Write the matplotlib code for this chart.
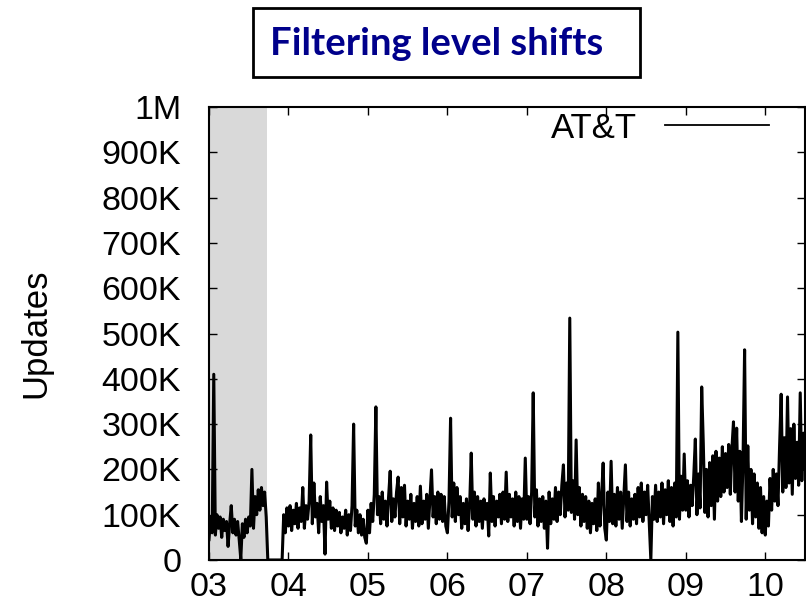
import matplotlib
matplotlib.use('Agg')
import matplotlib.pyplot as plt
from matplotlib.patches import Rectangle
import numpy as np

# daily update counts for AT&T, sampled every 0.02 yr, in thousands
start_year = 2003.0
step = 0.02
updates_2003 = [45, 95, 60, 410, 55, 100, 70, 95, 50, 90,
                65, 85, 30, 80, 120, 60, 90, 55, 85, 45,
                2, 80, 50, 90, 60, 95, 75, 200, 70, 140,
                100, 155, 110, 160, 120, 150, 95, 0, 0, 0,
                0, 0, 0, 0, 0, 0, 0, 100, 60, 115]
updates_2004 = [75, 120, 65, 110, 80, 125, 70, 115, 85, 160,
                70, 120, 90, 130, 276, 80, 170, 95, 125, 60,
                140, 85, 120, 13, 172, 90, 130, 70, 115, 65,
                110, 75, 105, 60, 95, 70, 110, 55, 100, 65,
                120, 300, 75, 110, 60, 100, 55, 90, 50, 37]
updates_2005 = [110, 60, 125, 85, 145, 338, 100, 140, 80, 150,
                90, 130, 75, 140, 196, 85, 135, 95, 150, 183,
                80, 160, 95, 165, 75, 130, 90, 145, 70, 125,
                85, 140, 75, 163, 80, 130, 90, 145, 70, 135,
                199, 95, 140, 80, 150, 90, 145, 85, 140, 75]
updates_2006 = [60, 130, 313, 95, 170, 85, 160, 100, 140, 70,
                125, 80, 135, 65, 120, 236, 90, 150, 75, 140,
                85, 130, 70, 135, 90, 125, 53, 192, 85, 140,
                75, 130, 95, 145, 80, 150, 90, 194, 85, 145,
                95, 135, 75, 150, 85, 140, 70, 135, 90, 225]
updates_2007 = [90, 140, 80, 150, 369, 95, 155, 75, 135, 85,
                140, 70, 130, 26, 150, 80, 135, 90, 160, 85,
                150, 100, 165, 210, 95, 170, 110, 534, 105, 175,
                90, 265, 100, 160, 75, 145, 85, 140, 70, 130,
                60, 125, 80, 135, 65, 170, 75, 140, 214, 70]
updates_2008 = [44, 150, 85, 218, 80, 145, 75, 160, 90, 150,
                70, 140, 210, 85, 150, 75, 135, 90, 145, 80,
                160, 95, 170, 85, 150, 100, 165, 80, 0, 140,
                90, 165, 85, 150, 95, 170, 80, 155, 100, 175,
                85, 160, 75, 170, 95, 503, 90, 185, 110, 234]
updates_2009 = [110, 175, 95, 165, 120, 185, 267, 100, 190, 115,
                382, 258, 105, 200, 95, 215, 120, 230, 90, 240,
                130, 225, 140, 250, 150, 235, 160, 255, 145, 245,
                305, 150, 291, 130, 240, 85, 220, 464, 90, 252,
                110, 200, 80, 190, 95, 170, 70, 160, 60, 140]
updates_2010 = [55, 130, 75, 180, 110, 200, 130, 190, 120, 250,
                366, 150, 270, 160, 360, 170, 290, 145, 300, 180,
                260, 165, 369, 175, 280, 200]

shaded_span = (2003.0, 2003.73)
year_ticks = [2003, 2004, 2005, 2006, 2007, 2008, 2009, 2010]
year_labels = ['03', '04', '05', '06', '07', '08', '09', '10']
y_ticks = [0, 100e3, 200e3, 300e3, 400e3, 500e3, 600e3, 700e3, 800e3, 900e3, 1e6]
y_labels = ['0', '100K', '200K', '300K', '400K', '500K', '600K', '700K', '800K', '900K', '1M']

updates = np.array(updates_2003 + updates_2004 + updates_2005 + updates_2006 +
                   updates_2007 + updates_2008 + updates_2009 + updates_2010) * 1000.0
t = start_year + step * np.arange(len(updates))

plt.rcParams['font.family'] = ['Liberation Sans', 'DejaVu Sans']

fig = plt.figure(figsize=(8.06, 6.08), dpi=100)
ax = fig.add_axes([209/806, 48/608, 596/806, 453/608])

ax.axvspan(shaded_span[0], shaded_span[1], color='#d9d9d9', lw=0, zorder=0)
ax.plot(t, updates, color='black', lw=2.2, label='AT&T', zorder=2)

ax.set_xlim(2003, 2010.5)
ax.set_ylim(0, 1e6)
ax.set_xticks(year_ticks)
ax.set_xticklabels(year_labels)
ax.set_yticks(y_ticks)
ax.set_yticklabels(y_labels)
ax.tick_params(direction='in', length=6, width=1, top=True, right=True,
               labelsize=24.5)
ax.tick_params(axis='x', pad=9)
ax.tick_params(axis='y', pad=20)
for s in ax.spines.values():
    s.set_linewidth(1.5)

ax.set_ylabel('Updates', fontsize=25)
ax.yaxis.set_label_coords(-(209 - 52) / 596, 0.5)

leg = ax.legend(loc='upper right', bbox_to_anchor=(0.94, 0.99), frameon=False,
                markerfirst=False, fontsize=25, handlelength=3.0, handletextpad=0.8,
                borderpad=0, borderaxespad=0)
for h in leg.get_lines():
    h.set_linewidth(1.3)

# boxed heading above the plot
fig.patches.append(Rectangle((253/806, 1 - 77/608), 387/806, 69/608,
                             transform=fig.transFigure, fill=False,
                             edgecolor='black', lw=2))
fig.text(270/806, 1 - 44/608, 'Filtering level shifts', color='#00008b',
         fontsize=27.5, fontweight='bold', family=['Lato', 'DejaVu Sans'],
         ha='left', va='center')

plt.savefig('out.png', dpi=100)
